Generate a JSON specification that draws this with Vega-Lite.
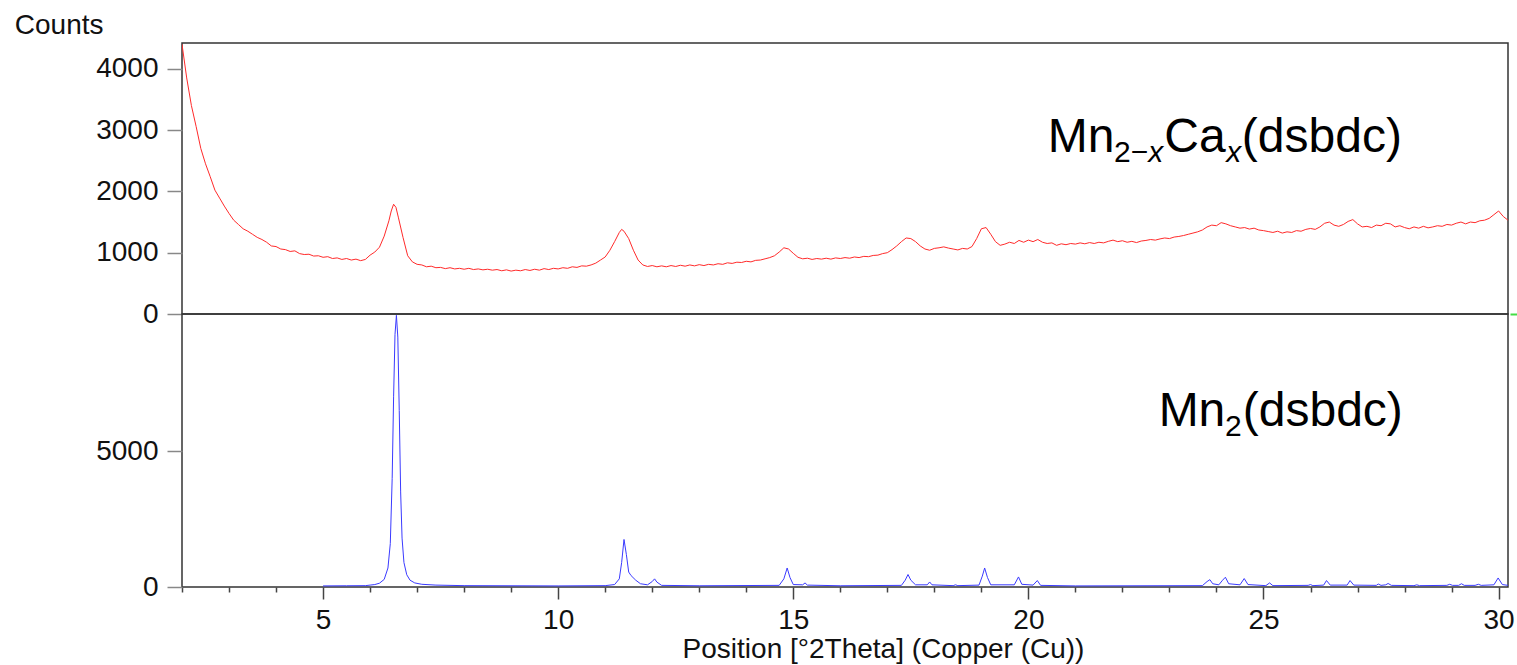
{
  "$schema": "https://vega.github.io/schema/vega-lite/v6.json",
  "background": "white",
  "padding": {"left": 13, "top": 10, "right": 5, "bottom": 0},
  "spacing": 0,
  "bounds": "flush",
  "config": {
    "view": {"stroke": "#333", "strokeWidth": 1.5},
    "concat": {"spacing": 0},
    "axis": {
      "labelFont": "Liberation Sans", "labelFontSize": 28, "labelColor": "#111",
      "titleFont": "Liberation Sans", "titleFontSize": 28, "titleFontWeight": "normal", "titleColor": "#111",
      "tickColor": "#888", "tickWidth": 1.5, "domain": false, "grid": false
    },
    "text": {"font": "Liberation Sans", "color": "#000"}
  },
  "datasets": {
    "red": [
      {"t":2.0,"c":4400},{"t":2.1,"c":3850},{"t":2.2,"c":3400},{"t":2.3,"c":3060},{"t":2.4,"c":2700},{"t":2.5,"c":2450},{"t":2.6,"c":2240},{"t":2.7,"c":2020},{"t":2.8,"c":1890},{"t":2.9,"c":1760},
      {"t":3.0,"c":1640},{"t":3.1,"c":1530},{"t":3.2,"c":1460},{"t":3.3,"c":1390},{"t":3.4,"c":1350},{"t":3.5,"c":1300},{"t":3.6,"c":1250},{"t":3.7,"c":1215},{"t":3.8,"c":1170},{"t":3.9,"c":1110},
      {"t":4.0,"c":1100},{"t":4.1,"c":1060},{"t":4.2,"c":1050},{"t":4.3,"c":1020},{"t":4.4,"c":1030},{"t":4.5,"c":985},{"t":4.6,"c":970},{"t":4.7,"c":975},{"t":4.8,"c":945},{"t":4.9,"c":950},
      {"t":5.0,"c":925},{"t":5.1,"c":935},{"t":5.2,"c":905},{"t":5.3,"c":915},{"t":5.4,"c":890},{"t":5.5,"c":905},{"t":5.6,"c":880},{"t":5.7,"c":895},{"t":5.8,"c":870},{"t":5.9,"c":890},
      {"t":6.0,"c":960},{"t":6.1,"c":1010},{"t":6.2,"c":1090},{"t":6.3,"c":1270},{"t":6.4,"c":1520},{"t":6.45,"c":1680},{"t":6.5,"c":1790},{"t":6.55,"c":1740},{"t":6.6,"c":1580},{"t":6.7,"c":1250},{"t":6.8,"c":950},{"t":6.9,"c":850},
      {"t":7.0,"c":810},{"t":7.1,"c":800},{"t":7.2,"c":770},{"t":7.3,"c":780},{"t":7.4,"c":755},{"t":7.5,"c":760},{"t":7.6,"c":740},{"t":7.7,"c":755},{"t":7.8,"c":735},{"t":7.9,"c":745},
      {"t":8.0,"c":730},{"t":8.1,"c":745},{"t":8.2,"c":725},{"t":8.3,"c":735},{"t":8.4,"c":720},{"t":8.5,"c":730},{"t":8.6,"c":715},{"t":8.7,"c":725},{"t":8.8,"c":705},{"t":8.9,"c":720},
      {"t":9.0,"c":700},{"t":9.1,"c":715},{"t":9.2,"c":705},{"t":9.3,"c":725},{"t":9.4,"c":710},{"t":9.5,"c":730},{"t":9.6,"c":715},{"t":9.7,"c":740},{"t":9.8,"c":725},{"t":9.9,"c":745},
      {"t":10.0,"c":735},{"t":10.1,"c":755},{"t":10.2,"c":745},{"t":10.3,"c":770},{"t":10.4,"c":760},{"t":10.5,"c":785},{"t":10.6,"c":780},{"t":10.7,"c":800},{"t":10.8,"c":830},{"t":10.9,"c":880},
      {"t":11.0,"c":930},{"t":11.1,"c":1040},{"t":11.2,"c":1180},{"t":11.3,"c":1330},{"t":11.35,"c":1380},{"t":11.4,"c":1350},{"t":11.5,"c":1230},{"t":11.6,"c":1040},{"t":11.7,"c":880},{"t":11.8,"c":800},{"t":11.9,"c":775},
      {"t":12.0,"c":790},{"t":12.1,"c":770},{"t":12.2,"c":785},{"t":12.3,"c":770},{"t":12.4,"c":790},{"t":12.5,"c":775},{"t":12.6,"c":795},{"t":12.7,"c":780},{"t":12.8,"c":800},{"t":12.9,"c":785},
      {"t":13.0,"c":805},{"t":13.1,"c":790},{"t":13.2,"c":810},{"t":13.3,"c":800},{"t":13.4,"c":820},{"t":13.5,"c":810},{"t":13.6,"c":835},{"t":13.7,"c":825},{"t":13.8,"c":845},{"t":13.9,"c":840},
      {"t":14.0,"c":860},{"t":14.1,"c":850},{"t":14.2,"c":875},{"t":14.3,"c":880},{"t":14.4,"c":900},{"t":14.5,"c":920},{"t":14.6,"c":950},{"t":14.7,"c":1010},{"t":14.8,"c":1080},{"t":14.9,"c":1060},
      {"t":15.0,"c":990},{"t":15.1,"c":925},{"t":15.2,"c":900},{"t":15.3,"c":910},{"t":15.4,"c":890},{"t":15.5,"c":905},{"t":15.6,"c":895},{"t":15.7,"c":910},{"t":15.8,"c":895},{"t":15.9,"c":915},
      {"t":16.0,"c":905},{"t":16.1,"c":920},{"t":16.2,"c":910},{"t":16.3,"c":930},{"t":16.4,"c":920},{"t":16.5,"c":940},{"t":16.6,"c":935},{"t":16.7,"c":955},{"t":16.8,"c":960},{"t":16.9,"c":985},
      {"t":17.0,"c":1000},{"t":17.1,"c":1050},{"t":17.2,"c":1110},{"t":17.3,"c":1180},{"t":17.4,"c":1240},{"t":17.5,"c":1230},{"t":17.6,"c":1180},{"t":17.7,"c":1110},{"t":17.8,"c":1060},{"t":17.9,"c":1040},
      {"t":18.0,"c":1070},{"t":18.1,"c":1080},{"t":18.2,"c":1095},{"t":18.3,"c":1075},{"t":18.4,"c":1060},{"t":18.5,"c":1045},{"t":18.6,"c":1070},{"t":18.7,"c":1060},{"t":18.8,"c":1100},{"t":18.9,"c":1230},
      {"t":19.0,"c":1390},{"t":19.1,"c":1410},{"t":19.2,"c":1300},{"t":19.3,"c":1180},{"t":19.4,"c":1120},{"t":19.5,"c":1140},{"t":19.6,"c":1170},{"t":19.7,"c":1150},{"t":19.8,"c":1200},{"t":19.9,"c":1170},
      {"t":20.0,"c":1205},{"t":20.1,"c":1180},{"t":20.2,"c":1215},{"t":20.3,"c":1170},{"t":20.4,"c":1150},{"t":20.5,"c":1160},{"t":20.6,"c":1120},{"t":20.7,"c":1145},{"t":20.8,"c":1130},{"t":20.9,"c":1150},
      {"t":21.0,"c":1140},{"t":21.1,"c":1160},{"t":21.2,"c":1145},{"t":21.3,"c":1165},{"t":21.4,"c":1150},{"t":21.5,"c":1170},{"t":21.6,"c":1160},{"t":21.7,"c":1185},{"t":21.8,"c":1205},{"t":21.9,"c":1180},
      {"t":22.0,"c":1195},{"t":22.1,"c":1170},{"t":22.2,"c":1185},{"t":22.3,"c":1165},{"t":22.4,"c":1190},{"t":22.5,"c":1200},{"t":22.6,"c":1215},{"t":22.7,"c":1205},{"t":22.8,"c":1225},{"t":22.9,"c":1240},
      {"t":23.0,"c":1230},{"t":23.1,"c":1255},{"t":23.2,"c":1265},{"t":23.3,"c":1280},{"t":23.4,"c":1300},{"t":23.5,"c":1320},{"t":23.6,"c":1340},{"t":23.7,"c":1370},{"t":23.8,"c":1420},{"t":23.9,"c":1450},
      {"t":24.0,"c":1440},{"t":24.1,"c":1490},{"t":24.2,"c":1470},{"t":24.3,"c":1440},{"t":24.4,"c":1420},{"t":24.5,"c":1400},{"t":24.6,"c":1410},{"t":24.7,"c":1385},{"t":24.8,"c":1400},{"t":24.9,"c":1370},
      {"t":25.0,"c":1360},{"t":25.1,"c":1345},{"t":25.2,"c":1330},{"t":25.3,"c":1350},{"t":25.4,"c":1320},{"t":25.5,"c":1340},{"t":25.6,"c":1330},{"t":25.7,"c":1360},{"t":25.8,"c":1350},{"t":25.9,"c":1380},
      {"t":26.0,"c":1395},{"t":26.1,"c":1380},{"t":26.2,"c":1420},{"t":26.3,"c":1480},{"t":26.4,"c":1500},{"t":26.5,"c":1450},{"t":26.6,"c":1430},{"t":26.7,"c":1460},{"t":26.8,"c":1510},{"t":26.9,"c":1540},
      {"t":27.0,"c":1470},{"t":27.1,"c":1420},{"t":27.2,"c":1430},{"t":27.3,"c":1410},{"t":27.4,"c":1450},{"t":27.5,"c":1440},{"t":27.6,"c":1480},{"t":27.7,"c":1470},{"t":27.8,"c":1420},{"t":27.9,"c":1440},
      {"t":28.0,"c":1410},{"t":28.1,"c":1390},{"t":28.2,"c":1420},{"t":28.3,"c":1400},{"t":28.4,"c":1430},{"t":28.5,"c":1405},{"t":28.6,"c":1420},{"t":28.7,"c":1440},{"t":28.8,"c":1430},{"t":28.9,"c":1460},
      {"t":29.0,"c":1450},{"t":29.1,"c":1480},{"t":29.2,"c":1500},{"t":29.3,"c":1470},{"t":29.4,"c":1500},{"t":29.5,"c":1490},{"t":29.6,"c":1520},{"t":29.7,"c":1530},{"t":29.8,"c":1560},{"t":29.9,"c":1620},
      {"t":30.0,"c":1680},{"t":30.1,"c":1590},{"t":30.2,"c":1530}
    ],
    "blue": [
      {"t":5.0,"c":40},{"t":5.5,"c":45},{"t":5.9,"c":50},{"t":6.0,"c":70},{"t":6.1,"c":90},{"t":6.2,"c":140},{"t":6.3,"c":280},{"t":6.38,"c":700},{"t":6.43,"c":1600},{"t":6.47,"c":4000},{"t":6.5,"c":7000},{"t":6.53,"c":9300},{"t":6.56,"c":10000},{"t":6.59,"c":9200},{"t":6.62,"c":6500},{"t":6.65,"c":3500},{"t":6.68,"c":1800},{"t":6.72,"c":900},{"t":6.78,"c":450},{"t":6.85,"c":250},{"t":6.95,"c":150},{"t":7.1,"c":100},{"t":7.4,"c":70},{"t":8.0,"c":50},{"t":10.0,"c":40},
      {"t":11.0,"c":50},{"t":11.2,"c":90},{"t":11.3,"c":300},{"t":11.35,"c":900},{"t":11.4,"c":1750},{"t":11.45,"c":1200},{"t":11.5,"c":550},{"t":11.55,"c":420},{"t":11.65,"c":250},{"t":11.75,"c":120},{"t":11.9,"c":80},{"t":12.0,"c":200},{"t":12.05,"c":300},{"t":12.1,"c":180},{"t":12.2,"c":60},{"t":13.0,"c":45},
      {"t":14.7,"c":60},{"t":14.8,"c":300},{"t":14.87,"c":700},{"t":14.93,"c":350},{"t":15.0,"c":90},{"t":15.2,"c":80},{"t":15.25,"c":150},{"t":15.3,"c":70},{"t":16.0,"c":45},
      {"t":17.3,"c":60},{"t":17.38,"c":250},{"t":17.44,"c":460},{"t":17.5,"c":250},{"t":17.6,"c":80},{"t":17.85,"c":80},{"t":17.9,"c":185},{"t":17.95,"c":80},{"t":18.4,"c":50},{"t":18.45,"c":80},{"t":18.5,"c":50},
      {"t":18.95,"c":70},{"t":19.02,"c":400},{"t":19.07,"c":700},{"t":19.13,"c":350},{"t":19.2,"c":80},{"t":19.7,"c":80},{"t":19.79,"c":370},{"t":19.86,"c":100},{"t":20.1,"c":70},{"t":20.19,"c":237},{"t":20.26,"c":60},{"t":21.0,"c":40},
      {"t":23.7,"c":50},{"t":23.8,"c":200},{"t":23.86,"c":270},{"t":23.92,"c":120},{"t":24.05,"c":80},{"t":24.13,"c":250},{"t":24.19,"c":360},{"t":24.26,"c":120},{"t":24.5,"c":80},{"t":24.59,"c":311},{"t":24.67,"c":90},
      {"t":25.05,"c":50},{"t":25.13,"c":150},{"t":25.2,"c":50},{"t":25.95,"c":60},{"t":26.0,"c":90},{"t":26.05,"c":50},{"t":26.28,"c":70},{"t":26.34,"c":237},{"t":26.42,"c":70},{"t":26.78,"c":70},{"t":26.84,"c":237},{"t":26.92,"c":70},
      {"t":27.4,"c":60},{"t":27.44,"c":110},{"t":27.5,"c":60},{"t":27.6,"c":80},{"t":27.65,"c":130},{"t":27.72,"c":60},{"t":28.2,"c":50},{"t":28.26,"c":80},{"t":28.32,"c":50},{"t":28.9,"c":60},{"t":28.96,"c":100},{"t":29.02,"c":60},
      {"t":29.15,"c":60},{"t":29.21,"c":120},{"t":29.27,"c":60},{"t":29.5,"c":60},{"t":29.57,"c":100},{"t":29.63,"c":60},{"t":29.9,"c":80},{"t":29.99,"c":333},{"t":30.08,"c":90},{"t":30.2,"c":60}
    ]
  },
  "vconcat": [
    {
      "width": 1326,
      "height": 271,
      "resolve": {"axis": {"y": "independent"}},
      "layer": [
        {
          "data": {"name": "red"},
          "mark": {"type": "line", "color": "#ff2a2a", "strokeWidth": 1, "clip": true},
          "encoding": {
            "x": {"field": "t", "type": "quantitative", "scale": {"domain": [2, 30.2], "nice": false, "zero": false}, "axis": null},
            "y": {"field": "c", "type": "quantitative", "scale": {"domain": [0, 4420], "nice": false},
              "axis": {"values": [0, 1000, 2000, 3000, 4000], "format": "d", "tickSize": 15, "labelPadding": 9,
                "title": "Counts", "titleAngle": 0, "titleAlign": "left", "titleBaseline": "alphabetic", "titleX": -167.7, "titleY": -9.4}}
          }
        },
        {
          "data": {"values": [{}]},
          "mark": {"type": "text", "text": "Mn", "fontSize": 48, "align": "left", "baseline": "alphabetic"},
          "encoding": {"x": {"datum": 20.41}, "y": {"datum": 2642,
            "axis": {"orient": "right", "values": [0], "labels": false, "title": null, "tickColor": "#44dd44", "tickSize": 7, "tickWidth": 2, "offset": 2}}}
        },
        {
          "data": {"values": [{}]},
          "mark": {"type": "text", "text": "2−", "fontSize": 30, "align": "left", "baseline": "alphabetic"},
          "encoding": {"x": {"datum": 21.82}, "y": {"datum": 2479, "axis": null}}
        },
        {
          "data": {"values": [{}]},
          "mark": {"type": "text", "text": "x", "fontSize": 30, "fontStyle": "italic", "align": "left", "baseline": "alphabetic"},
          "encoding": {"x": {"datum": 22.55}, "y": {"datum": 2479, "axis": null}}
        },
        {
          "data": {"values": [{}]},
          "mark": {"type": "text", "text": "Ca", "fontSize": 48, "align": "left", "baseline": "alphabetic"},
          "encoding": {"x": {"datum": 22.89}, "y": {"datum": 2642, "axis": null}}
        },
        {
          "data": {"values": [{}]},
          "mark": {"type": "text", "text": "x", "fontSize": 30, "fontStyle": "italic", "align": "left", "baseline": "alphabetic"},
          "encoding": {"x": {"datum": 24.21}, "y": {"datum": 2479, "axis": null}}
        },
        {
          "data": {"values": [{}]},
          "mark": {"type": "text", "text": "(dsbdc)", "fontSize": 48, "align": "left", "baseline": "alphabetic"},
          "encoding": {"x": {"datum": 24.54}, "y": {"datum": 2642, "axis": null}}
        }
      ]
    },
    {
      "width": 1326,
      "height": 273,
      "layer": [
        {
          "data": {"name": "blue"},
          "mark": {"type": "line", "color": "#3a3aff", "strokeWidth": 1, "clip": true},
          "encoding": {
            "x": {"field": "t", "type": "quantitative", "scale": {"domain": [2, 30.2], "nice": false, "zero": false},
              "axis": {"values": [2,3,4,5,6,7,8,9,10,11,12,13,14,15,16,17,18,19,20,21,22,23,24,25,26,27,28,29,30],
                "labelExpr": "datum.value % 5 === 0 ? datum.label : ''", "labelFlush": false, "labelOverlap": false,
                "tickColor": "#444",
                "tickSize": {"condition": {"test": "datum.value % 5 === 0", "value": 12}, "value": 5},
                "labelPadding": 7,
                "title": "Position [°2Theta] (Copper (Cu))", "titleX": 701, "titleY": 70.5, "titleAlign": "center", "titleBaseline": "alphabetic"}},
            "y": {"field": "c", "type": "quantitative", "scale": {"domain": [0, 10050], "nice": false},
              "axis": {"values": [0, 5000], "format": "d", "tickSize": 15, "labelPadding": 9, "title": null}}
          }
        },
        {
          "data": {"values": [{}]},
          "mark": {"type": "text", "text": "Mn", "fontSize": 48, "align": "left", "baseline": "alphabetic"},
          "encoding": {"x": {"datum": 22.77}, "y": {"datum": 5910}}
        },
        {
          "data": {"values": [{}]},
          "mark": {"type": "text", "text": "2", "fontSize": 30, "align": "left", "baseline": "alphabetic"},
          "encoding": {"x": {"datum": 24.18}, "y": {"datum": 5541}}
        },
        {
          "data": {"values": [{}]},
          "mark": {"type": "text", "text": "(dsbdc)", "fontSize": 48, "align": "left", "baseline": "alphabetic"},
          "encoding": {"x": {"datum": 24.56}, "y": {"datum": 5910}}
        }
      ]
    }
  ]
}
